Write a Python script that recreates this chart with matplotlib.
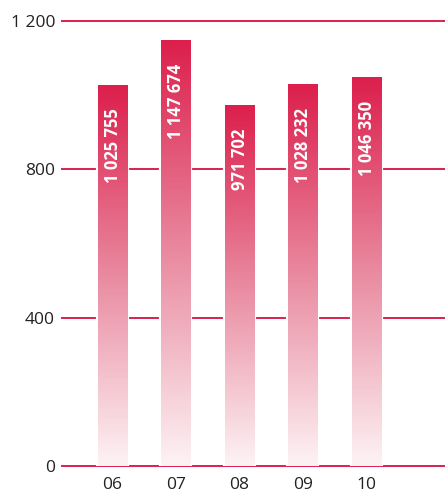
import numpy as np
import matplotlib
matplotlib.use("Agg")
from matplotlib import pyplot as plt
from matplotlib.colors import LinearSegmentedColormap
from matplotlib.patches import Rectangle

# данные
years = ["06", "07", "08", "09", "10"]
values = [1025755, 1147674, 971702, 1028232, 1046350]
labels = ["1 025 755", "1 147 674", "971 702", "1 028 232", "1 046 350"]
yticks = [0, 400, 800, 1200]
ytick_labels = ["0", "400", "800", "1 200"]

RED = "#dc1f4c"
plt.rcParams['font.family'] = ['Open Sans', 'DejaVu Sans']

fig = plt.figure(figsize=(4.45, 4.97), dpi=100)
ax = fig.add_axes([62 / 445, 31 / 497, 1 - 62 / 445, 445 / 497])

for t in yticks:
    ax.axhline(t, color=RED, lw=1.4, zorder=1, clip_on=False)

cmap = LinearSegmentedColormap.from_list("g", ["#fdf3f5", "#e98aa0", RED])
grad = np.linspace(0, 1, 256).reshape(-1, 1)
w = 0.46
x = np.arange(len(years))
for i, v in enumerate(values):
    h = v / 1000
    # белая обводка, чтобы линии сетки не касались столбца
    ax.add_patch(Rectangle((i - w / 2, 0), w, h, facecolor="none", edgecolor="white", lw=3, zorder=2))
    ax.imshow(grad, cmap=cmap, origin="lower", aspect="auto",
              extent=(i - w / 2, i + w / 2, 0, h), zorder=3)
    ax.annotate(labels[i], xy=(i, h), xytext=(0.5, -16.5), textcoords="offset points",
                rotation=90, ha="center", va="top", color="white",
                fontsize=12, fontweight="bold", zorder=4)

ax.set_xlim(-0.79, 5.24)
ax.set_ylim(0, 1200)
ax.set_xticks(x)
ax.set_xticklabels(years)
ax.set_yticks(yticks)
ax.set_yticklabels(ytick_labels)
ax.tick_params(length=0, labelsize=12.5, colors="#222222", pad=5)
ax.tick_params(axis="x", pad=8)
for s in ax.spines.values():
    s.set_visible(False)

fig.savefig("out.png", dpi=100)
